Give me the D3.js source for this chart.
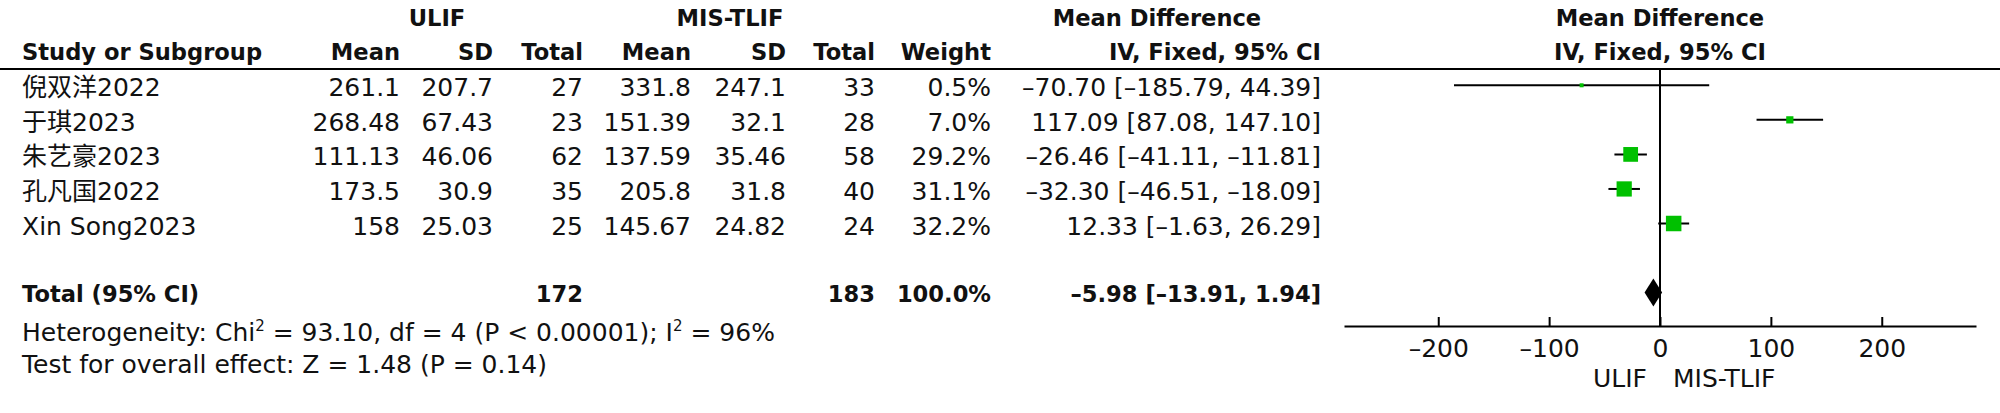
<!DOCTYPE html>
<html>
<head>
<meta charset="utf-8">
<script src="https://cdn.jsdelivr.net/npm/d3@7"></script>
<style>
  body { margin: 0; background: #fff; }
  text { font-family: "DejaVu Sans", "Noto Sans CJK SC", sans-serif; fill: #111; }
</style>
</head>
<body>
<svg></svg>
<script>
// forest plot data
var studies = ["倪双洋2022", "于琪2023", "朱艺豪2023", "孔凡国2022", "Xin Song2023"];
var ulifMean = [261.1, 268.48, 111.13, 173.5, 158];
var ulifSD = [207.7, 67.43, 46.06, 30.9, 25.03];
var ulifTotal = [27, 23, 62, 35, 25];
var misMean = [331.8, 151.39, 137.59, 205.8, 145.67];
var misSD = [247.1, 32.1, 35.46, 31.8, 24.82];
var misTotal = [33, 28, 58, 40, 24];
var weights = [0.5, 7.0, 29.2, 31.1, 32.2];
var md = [-70.70, 117.09, -26.46, -32.30, 12.33];
var ciLow = [-185.79, 87.08, -41.11, -46.51, -1.63];
var ciHigh = [44.39, 147.10, -11.81, -18.09, 26.29];
var totalN = [172, 183];
var totalWeight = 100.0;
var totalMD = [-5.98, -13.91, 1.94];
var ticks = [-200, -100, 0, 100, 200];
var heterogeneity = ["Heterogeneity: Chi", "2", " = 93.10, df = 4 (P < 0.00001); I", "2", " = 96%"];
var overall = "Test for overall effect: Z = 1.48 (P = 0.14)";

var width = 2000;
var height = 413;
var fs = 25;      // regular text
var fsb = 22.6;   // bold text
var svg = d3.select("svg")
      .attr("width", width)
      .attr("height", height);

// en dash for negatives, like the original
var dash = function(s) { return String(s).replace(/^-/, "–").replace(/\[-/, "[–").replace(/, -/, ", –"); };
var f2 = function(v) { return dash(v.toFixed(2)); };
var ciText = function(m, l, h) { return f2(m) + " [" + f2(l) + ", " + f2(h) + "]"; };

var addText = function(x, y, txt, anchor, bold) {
      return svg.append("text")
            .attr("x", x)
            .attr("y", y)
            .attr("text-anchor", anchor)
            .style("font-size", (bold ? fsb : fs) + "px")
            .style("font-weight", bold ? "bold" : "normal")
            .text(txt);
}

// columns (right edges) and row positions
var cols = { mean1: 400, sd1: 493, n1: 583, mean2: 691, sd2: 786, n2: 875, weight: 991, ci: 1321 };
var rowY = d3.scaleLinear().domain([0, 1]).range([85.3, 119.85]);

// headers
addText(437, 26, "ULIF", "middle", true);
addText(730, 26, "MIS-TLIF", "middle", true);
addText(1157, 26, "Mean Difference", "middle", true);
addText(22, 60, "Study or Subgroup", "start", true);
addText(cols.mean1, 60, "Mean", "end", true);
addText(cols.sd1, 60, "SD", "end", true);
addText(cols.n1, 60, "Total", "end", true);
addText(cols.mean2, 60, "Mean", "end", true);
addText(cols.sd2, 60, "SD", "end", true);
addText(cols.n2, 60, "Total", "end", true);
addText(cols.weight, 60, "Weight", "end", true);
addText(cols.ci, 60, "IV, Fixed, 95% CI", "end", true);

svg.append("line")
      .attr("x1", 0).attr("x2", width)
      .attr("y1", 69).attr("y2", 69)
      .style("stroke", "#000").style("stroke-width", 2);

// study rows
studies.forEach(function(s, i) {
      var y = rowY(i) + 11;
      addText(22, y, s, "start", false);
      addText(cols.mean1, y, String(ulifMean[i]), "end", false);
      addText(cols.sd1, y, String(ulifSD[i]), "end", false);
      addText(cols.n1, y, String(ulifTotal[i]), "end", false);
      addText(cols.mean2, y, String(misMean[i]), "end", false);
      addText(cols.sd2, y, String(misSD[i]), "end", false);
      addText(cols.n2, y, String(misTotal[i]), "end", false);
      addText(cols.weight, y, weights[i].toFixed(1) + "%", "end", false);
      addText(cols.ci, y, ciText(md[i], ciLow[i], ciHigh[i]), "end", false);
});

// total row
var ty = rowY(6) + 9;
addText(22, ty, "Total (95% CI)", "start", true);
addText(cols.n1, ty, String(totalN[0]), "end", true);
addText(cols.n2, ty, String(totalN[1]), "end", true);
addText(cols.weight, ty, totalWeight.toFixed(1) + "%", "end", true);
addText(cols.ci, ty, ciText(totalMD[0], totalMD[1], totalMD[2]), "end", true);

var het = svg.append("text")
      .attr("x", 22).attr("y", 341)
      .style("font-size", fs + "px");
heterogeneity.forEach(function(t, i) {
      var sup = (i % 2 === 1);
      het.append("tspan")
            .attr("dy", sup ? -10 : (i > 0 ? 10 : 0))
            .style("font-size", sup ? "15px" : fs + "px")
            .text(t);
});
addText(22, 373, overall, "start", false);

// plot
var xScale = d3.scaleLinear()
      .domain([-285, 285])
      .range([1344, 1976]);
var axisY = 326;

addText(xScale(0), 26, "Mean Difference", "middle", true);
addText(xScale(0), 60, "IV, Fixed, 95% CI", "middle", true);

var sizeScale = d3.scaleSqrt()
      .domain([0, d3.max(weights)])
      .range([0, 15.5]);

var g = svg.append("g");
g.selectAll("line.ci")
      .data(studies)
      .enter()
      .append("line")
            .attr("class", "ci")
            .attr("x1", (d, i) => xScale(ciLow[i]))
            .attr("x2", (d, i) => xScale(ciHigh[i]))
            .attr("y1", (d, i) => rowY(i))
            .attr("y2", (d, i) => rowY(i))
            .style("stroke", "#000")
            .style("stroke-width", 2);

g.selectAll("rect")
      .data(studies)
      .enter()
      .append("rect")
            .attr("x", (d, i) => xScale(md[i]) - Math.max(4, sizeScale(weights[i])) / 2)
            .attr("y", (d, i) => rowY(i) - Math.max(4, sizeScale(weights[i])) / 2)
            .attr("width", (d, i) => Math.max(4, sizeScale(weights[i])))
            .attr("height", (d, i) => Math.max(4, sizeScale(weights[i])))
            .style("fill", "#00c000");

// zero line
svg.append("line")
      .attr("x1", xScale(0)).attr("x2", xScale(0))
      .attr("y1", 69).attr("y2", axisY)
      .style("stroke", "#000").style("stroke-width", 2);

// pooled diamond
var dy = rowY(6);
svg.append("polygon")
      .attr("points", [
            [xScale(totalMD[1]), dy],
            [xScale(totalMD[0]), dy - 14],
            [xScale(totalMD[2]), dy],
            [xScale(totalMD[0]), dy + 14]
      ].map(p => p.join(",")).join(" "))
      .style("fill", "#000");

// axis
var xAxisScale = d3.axisBottom(xScale)
      .tickValues(ticks)
      .tickSizeInner(-9)
      .tickSizeOuter(0)
      .tickPadding(13)
      .tickFormat(d => dash(d));
var xAxis = svg.append("g")
      .attr("transform", "translate(0, " + axisY + ")")
      .call(xAxisScale);
xAxis.selectAll("path, line").style("stroke", "#000").style("stroke-width", 2);
xAxis.selectAll("text")
      .attr("font-family", null)
      .style("font-size", fs + "px")
      .style("fill", "#111");
xAxis.attr("font-family", null).attr("font-size", null);

addText(xScale(0) - 13, 387, "ULIF", "end", false);
addText(xScale(0) + 13, 387, "MIS-TLIF", "start", false);
</script>
</body>
</html>
